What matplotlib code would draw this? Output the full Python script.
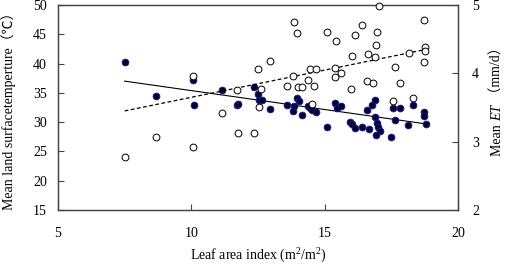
import matplotlib
matplotlib.use('Agg')
from matplotlib import pyplot as plt

plt.rcParams['font.family'] = ['Liberation Serif', 'Noto Sans CJK SC', 'DejaVu Sans']
plt.rcParams['mathtext.fontset'] = 'custom'
plt.rcParams['mathtext.rm'] = 'Liberation Serif'
plt.rcParams['mathtext.it'] = 'Liberation Serif:italic'
plt.rcParams['font.size'] = 10

# land surface temperature (filled, left axis)
lai_lst = [7.51, 8.69, 10.07, 10.09, 11.15, 11.70, 11.76, 12.34, 12.50, 12.54,
           12.65, 12.96, 13.58, 13.85, 13.80, 13.95, 14.05, 14.14, 14.38, 14.45,
           14.51, 14.66, 15.09, 15.39, 15.45, 15.60, 15.95, 16.04, 16.14, 16.40,
           16.67, 16.60, 16.79, 16.89, 16.88, 16.95, 17.01, 17.08, 16.93, 17.49,
           17.57, 17.83, 17.64, 18.14, 18.32, 18.73, 18.73, 18.79]
lst = [40.2, 34.5, 37.2, 33.0, 35.5, 32.9, 33.1, 36.0, 34.75, 33.8,
       33.8, 32.2, 33.0, 32.76, 31.9, 34.1, 33.66, 31.2, 32.76, 32.4,
       32.1, 31.7, 29.2, 33.3, 32.4, 32.7, 30.0, 29.6, 29.05, 29.1,
       28.8, 32.1, 32.9, 33.8, 30.9, 29.8, 29.1, 28.5, 27.8, 27.5,
       32.4, 32.4, 30.4, 29.5, 33.0, 31.7, 31.05, 29.6]

# evapotranspiration (open, right axis)
lai_et = [7.51, 8.69, 10.07, 10.07, 11.15, 11.70, 11.75, 12.34, 12.50, 12.54,
          12.62, 12.96, 13.85, 13.95, 15.09, 15.43, 16.13, 16.40, 16.95, 16.93,
          17.05, 18.74, 18.77, 18.77, 18.71, 18.15, 16.04, 16.61, 16.90, 14.46,
          14.66, 15.39, 15.61, 15.39, 13.81, 14.39, 13.59, 14.01, 14.14, 14.60,
          16.60, 16.80, 15.98, 17.81, 17.62, 17.57, 18.32, 14.54]
et = [2.78, 3.07, 2.92, 3.96, 3.42, 3.75, 3.12, 3.13, 4.06, 3.50,
      3.77, 4.18, 4.75, 4.585, 4.60, 4.47, 4.56, 4.71, 4.60, 4.42,
      4.985, 4.785, 4.39, 4.33, 4.17, 4.30, 4.25, 4.28, 4.24, 4.07,
      4.06, 4.08, 4.00, 3.94, 3.96, 3.90, 3.81, 3.80, 3.80, 3.82,
      3.89, 3.86, 3.77, 3.86, 4.09, 3.60, 3.64, 3.55]

# trend lines
trend_x = [7.5, 18.8]
lst_trend = [37.0, 29.7]
et_trend = [3.45, 4.35]

fig = plt.figure(figsize=(5.05, 2.64), dpi=100)
ax = fig.add_axes([58/505, 54/264, 400/505, 205/264])
ax2 = ax.twinx()

ax.plot(trend_x, lst_trend, color='k', lw=0.8)
ax.scatter(lai_lst, lst, s=24, facecolor='#000033', edgecolor='#1c1c8a', lw=0.6, zorder=3)
ax2.plot(trend_x, et_trend, color='k', lw=0.9, dashes=(3, 2))
ax2.scatter(lai_et, et, s=24, facecolor='white', edgecolor='k', lw=0.7, zorder=3, clip_on=False)

ax.set_xlim(5, 20)
ax.set_ylim(15, 50)
ax2.set_ylim(2, 5)
ax.set_xticks([5, 10, 15, 20])
ax.set_yticks(range(15, 51, 5))
ax2.set_yticks([2, 3, 4, 5])

for a in (ax, ax2):
    for s in a.spines.values():
        s.set_color('#444444')
        s.set_linewidth(0.9)
ax.tick_params(axis='x', direction='in', length=4, width=0.8, color='#444444', pad=12)
ax.tick_params(axis='y', direction='in', length=4, width=0.8, color='#444444', pad=8)
ax2.tick_params(axis='y', direction='in', length=4, width=0.8, color='#444444', pad=10)

ax.set_xlabel('Leaf area index (m$^2$/m$^2$)', labelpad=5)
ax.set_ylabel('Mean land surfacetemperture（℃）', labelpad=12)

# right label built from pieces, bottoms aligned like the left label
fig.canvas.draw()
renderer = fig.canvas.get_renderer()
xr = 504 / 505
y = 1 - 156 / 264
pieces = [('Mean ', 'normal'), ('ET', 'italic'), (' （mm/d）', 'normal')]
for txt, st in pieces:
    t = fig.text(xr, y, txt, rotation=90, rotation_mode='anchor',
                 ha='left', va='bottom', style=st, fontsize=10)
    bb = t.get_window_extent(renderer)
    y = bb.y1 / fig.bbox.height

fig.savefig('out.png', dpi=100)
